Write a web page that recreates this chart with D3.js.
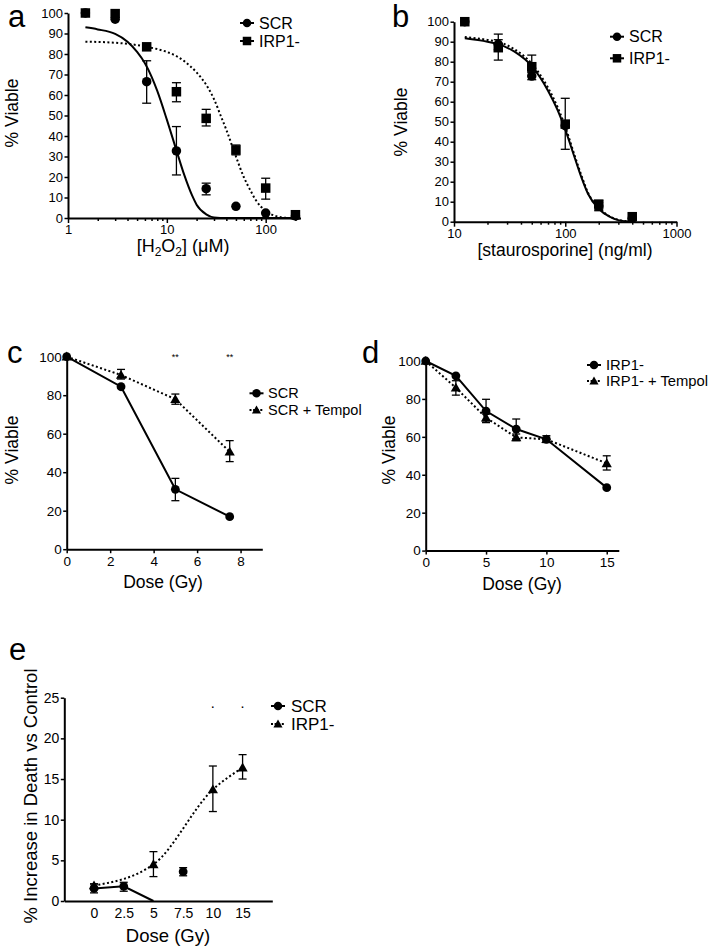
<!DOCTYPE html>
<html><head><meta charset="utf-8">
<script src="https://cdnjs.cloudflare.com/ajax/libs/d3/7.8.5/d3.min.js"></script>
<style>body{margin:0;background:#fff}svg{display:block}text{font-family:"Liberation Sans",Arial,Helvetica,sans-serif;fill:#000}</style>
</head><body>
<script>
// ---------- DATA ----------
// Panel a: H2O2 dose response
const dosesA = [1.5, 3, 6.25, 12.5, 25, 50, 100, 200];
const scrA = [100, 97, 66.5, 32.7, 14.3, 5.7, 2.4, 1.0];
const scrAErr = [null, null, [56, 76.7], [21, 44.6], [11.3, 17], null, null, null];
const irpA = [100, 99.7, 83.5, 61.6, 48.6, 33.2, 14.6, 1.6];
const irpAErr = [null, null, null, [56.7, 66], [44.9, 53], [30.8, 35.6], [9.2, 19.4], null];
const fitA_SCR_x = [1.5, 2, 3, 4, 5, 6, 7, 8, 10, 12.5, 15, 18, 20, 25, 30, 40, 200];
const fitA_SCR_y = [93, 92, 89.8, 86, 81, 75.5, 69, 62, 48, 33, 21, 11, 6.5, 1.8, 0.3, 0, 0];
const fitA_IRP_x = [1.5, 3, 6.25, 10, 12.5, 15, 20, 25, 30, 35, 40, 50, 60, 70, 80, 100, 130, 160, 200];
const fitA_IRP_y = [86, 85.5, 83.5, 81, 79, 76.5, 71, 65, 58, 50, 43, 30, 20, 13.5, 8.5, 3.5, 0.8, 0.1, 0];
const yTicksA = [0, 10, 20, 30, 40, 50, 60, 70, 80, 90, 100];
const xTicksA = [1, 2, 3, 4, 5, 6, 7, 8, 9, 10, 20, 30, 40, 50, 60, 70, 80, 90, 100, 200];
const xLabelsA = [1, 10, 100];

// Panel b: staurosporine dose response
const dosesB = [12.5, 25, 50, 100, 200, 400];
const scrB = [100, 88.7, 72.8, 48, 7.8, 1.7];
const scrBErr = [null, [86, 91], [71, 74.5], null, [6, 9.5], null];
const irpB = [100, 87, 77.5, 48.8, 8.8, 2.5];
const irpBErr = [null, [80.8, 93.8], [75, 83.3], [36.2, 61.7], [5.5, 10.5], null];
const fitB_SCR_x = [12.5, 20, 25, 35, 50, 70, 85, 100, 120, 140, 160, 200, 250, 300, 400];
const fitB_SCR_y = [91.7, 90, 88.8, 85, 77.8, 65.5, 56, 46, 33, 22, 14, 6.5, 2.5, 0.8, 0];
const fitB_IRP_y = [92.4, 90.9, 89.9, 86.2, 79, 67, 57.5, 47.5, 34, 23, 14.5, 7, 2.7, 0.9, 0];
const yTicksB = [0, 10, 20, 30, 40, 50, 60, 70, 80, 90, 100];
const xTicksB = [10, 20, 30, 40, 50, 60, 70, 80, 90, 100, 200, 300, 400, 500, 600, 700, 800, 900, 1000];
const xLabelsB = [10, 100, 1000];

// Panel c: SCR +/- Tempol, radiation
const dosesC = [0, 2.5, 5, 7.5];
const scrC = [100, 84.4, 31.1, 16.9];
const scrCErr = [null, null, [25.2, 36.8], null];
const scrTempolC = [100, 90.5, 77.9, 50.6];
const scrTempolCErr = [null, [88.4, 93.4], [75.3, 80.6], [45.5, 56.4]];
const sigC = [5, 7.5];
const xTicksC = [0, 2, 4, 6, 8];
const yTicksC = [0, 20, 40, 60, 80, 100];

// Panel d: IRP1- +/- Tempol, radiation
const dosesD = [0, 2.5, 5, 7.5, 10, 15];
const irpD = [100, 92.2, 73.6, 64.1, 58.7, 33.2];
const irpDErr = [null, null, [67.5, 79.8], [59, 69.4], [57, 60.6], null];
const irpTempolD = [100, 85.9, 70.1, 59.7, 58.7, 46];
const irpTempolDErr = [null, [82, 89.6], [67.8, 72], [58, 61.5], null, [42.5, 50]];
const xTicksD = [0, 5, 10, 15];
const yTicksD = [0, 20, 40, 60, 80, 100];

// Panel e: % increase in death vs control
const catsE = ["0", "2.5", "5", "7.5", "10", "15"];
const scrE = [1.55, 1.8, 0, 3.6, null, null];
const scrEErr = [[1.0, 2.1], [1.2, 2.3], null, [3.1, 4.1], null, null];
const scrELineCount = 3;
const irpE = [1.9, null, 4.5, null, 13.7, 16.4];
const irpEErr = [[1.6, 2.1], null, [3.0, 6.07], null, [11.0, 16.6], [15.0, 18.0]];
const sigE = ["10", "15"];
const yTicksE = [0, 5, 10, 15, 20, 25];

// ---------- DRAW ----------
const W = 719, H = 951;
const svg = d3.select("body").append("svg").attr("width", W).attr("height", H);
svg.append("rect").attr("width", W).attr("height", H).attr("fill", "#fff");
const DOT = "2,2.4";

function styleAxis(g, fs) {
  g.select(".domain").attr("stroke", "#000").attr("stroke-width", 2);
  g.selectAll(".tick line").attr("stroke", "#000").attr("stroke-width", 1.5);
  g.selectAll(".tick text").attr("font-size", fs).attr("fill", "#000")
    .style("font-family", '"Liberation Sans",Arial,sans-serif');
}
function yAxis(x0, y, ticks, fs) {
  const g = svg.append("g").attr("transform", `translate(${x0},0)`)
    .call(d3.axisLeft(y).tickValues(ticks).tickSize(3.5).tickPadding(1.5).tickSizeOuter(0).tickFormat(d3.format("d")));
  styleAxis(g, fs);
  return g;
}
function xAxis(y0, x, ticks, fs, labels, fmt) {
  const ax = d3.axisBottom(x).tickValues(ticks).tickSize(4).tickPadding(3).tickSizeOuter(0)
    .tickFormat(d => labels ? (labels.includes(d) ? d : "") : (fmt ? fmt(d) : d));
  const g = svg.append("g").attr("transform", `translate(0,${y0})`).call(ax);
  styleAxis(g, fs);
  if (labels) g.selectAll(".tick line").attr("y2", d => labels.includes(d) ? 5 : 3);
  return g;
}
function marker(g, shape, cx, cy, s) {
  if (shape === "circle") g.append("circle").attr("cx", cx).attr("cy", cy).attr("r", s / 2).attr("fill", "#000");
  else if (shape === "square") g.append("rect").attr("x", cx - s / 2).attr("y", cy - s / 2).attr("width", s).attr("height", s).attr("fill", "#000");
  else g.append("path").attr("d", d3.symbol(d3.symbolTriangle, s * s * 0.5)()).attr("transform", `translate(${cx},${cy + 0.8})`).attr("fill", "#000");
}
function errBars(g, xs, errs, x, y, cap) {
  errs.forEach((e, i) => {
    if (!e) return;
    const cx = x(xs[i]);
    g.append("line").attr("x1", cx).attr("x2", cx).attr("y1", y(e[0])).attr("y2", y(e[1])).attr("stroke", "#000").attr("stroke-width", 1.3);
    [e[0], e[1]].forEach(v => g.append("line").attr("x1", cx - cap / 2).attr("x2", cx + cap / 2).attr("y1", y(v)).attr("y2", y(v)).attr("stroke", "#000").attr("stroke-width", 1.3));
  });
}
function points(g, xs, ys, x, y, shape, s) {
  ys.forEach((v, i) => { if (v != null && v > 0) marker(g, shape, x(xs[i]), y(v), s); });
}
function path(g, xs, ys, x, y, dashed, curve) {
  const pts = xs.map((d, i) => [x(d), y(ys[i])]).filter((p, i) => ys[i] != null);
  g.append("path").attr("d", d3.line().curve(curve || d3.curveLinear)(pts)).attr("fill", "none")
    .attr("stroke", "#000").attr("stroke-width", 2).attr("stroke-dasharray", dashed ? DOT : null);
}
function legend(x0, rows, fs, textX) {
  rows.forEach(r => {
    const g = svg.append("g");
    g.append("line").attr("x1", x0).attr("x2", x0 + 14).attr("y1", r.y).attr("y2", r.y).attr("stroke", "#000")
      .attr("stroke-width", 2).attr("stroke-dasharray", r.dashed ? "2,1.6" : null);
    marker(g, r.shape, x0 + 7, r.y, 8.5);
    g.append("text").attr("x", textX).attr("y", r.y).attr("dy", "0.35em").attr("font-size", fs).text(r.label);
  });
}
function letter(x, y, t) { svg.append("text").attr("x", x).attr("y", y).attr("font-size", 31).text(t); }
function yTitle(x, y, t, fs) {
  svg.append("text").attr("transform", `translate(${x},${y}) rotate(-90)`).attr("text-anchor", "middle").attr("font-size", fs).text(t);
}
function xTitle(x, y, t, fs) {
  return svg.append("text").attr("x", x).attr("y", y).attr("text-anchor", "middle").attr("font-size", fs).text(t);
}

// ----- Panel a -----
{
  const x = d3.scaleLog().domain([1, 225]).range([68, 300.5]);
  const y = d3.scaleLinear().domain([0, 100]).range([218, 13]);
  const g = svg.append("g");
  path(g, fitA_SCR_x, fitA_SCR_y, x, y, false, d3.curveMonotoneX);
  path(g, fitA_IRP_x, fitA_IRP_y, x, y, true, d3.curveMonotoneX);
  xAxis(218, x, xTicksA, 13, xLabelsA);
  yAxis(68, y, yTicksA, 13);
  errBars(g, dosesA, scrAErr, x, y, 9);
  errBars(g, dosesA, irpAErr, x, y, 9);
  points(g, dosesA, scrA, x, y, "circle", 9.5);
  points(g, dosesA, irpA, x, y, "square", 9.5);
  legend(240, [{ y: 23, shape: "circle", label: "SCR" }, { y: 41, shape: "square", label: "IRP1-" }], 16, 259);
  letter(8, 27, "a");
  yTitle(18, 113, "% Viable", 17.5);
  const t = xTitle(183, 252, "", 18);
  t.append("tspan").text("[H");
  t.append("tspan").attr("font-size", 12).attr("dy", 4).text("2");
  t.append("tspan").attr("dy", -4).text("O");
  t.append("tspan").attr("font-size", 12).attr("dy", 4).text("2");
  t.append("tspan").attr("dy", -4).text("] (\u03BCM)");
}

// ----- Panel b -----
{
  const x = d3.scaleLog().domain([10, 1000]).range([454, 676.5]);
  const y = d3.scaleLinear().domain([0, 100]).range([221.7, 21.7]);
  const g = svg.append("g");
  path(g, fitB_SCR_x, fitB_SCR_y, x, y, false, d3.curveMonotoneX);
  path(g, fitB_SCR_x, fitB_IRP_y, x, y, true, d3.curveMonotoneX);
  xAxis(221.7, x, xTicksB, 13, xLabelsB);
  yAxis(454, y, yTicksB, 13);
  errBars(g, dosesB, scrBErr, x, y, 9);
  errBars(g, dosesB, irpBErr, x, y, 9);
  points(g, dosesB, scrB, x, y, "circle", 9.5);
  points(g, dosesB, irpB, x, y, "square", 9.5);
  legend(610, [{ y: 36.7, shape: "circle", label: "SCR" }, { y: 58.3, shape: "square", label: "IRP1-" }], 16, 629);
  letter(392, 27, "b");
  yTitle(407, 122, "% Viable", 17.5);
  xTitle(565, 256, "[staurosporine] (ng/ml)", 17.5);
}

// ----- Panel c -----
{
  const x = d3.scaleLinear().domain([0, 9]).range([66.7, 262.3]);
  const y = d3.scaleLinear().domain([0, 100]).range([549.2, 356.7]);
  const g = svg.append("g");
  path(g, dosesC, scrC, x, y, false);
  path(g, dosesC, scrTempolC, x, y, true);
  xAxis(549.2, x, xTicksC, 13.5);
  yAxis(66.7, y, yTicksC, 13.5);
  errBars(g, dosesC, scrCErr, x, y, 8);
  errBars(g, dosesC, scrTempolCErr, x, y, 8);
  points(g, dosesC, scrC, x, y, "circle", 8.8);
  points(g, dosesC, scrTempolC, x, y, "triangle", 9.5);
  sigC.forEach(d => svg.append("text").attr("x", x(d)).attr("y", 360).attr("text-anchor", "middle").attr("font-size", 9).text("**"));
  legend(249.5, [{ y: 393.3, shape: "circle", label: "SCR" }, { y: 410, shape: "triangle", dashed: true, label: "SCR + Tempol" }], 14.5, 268);
  letter(7, 363, "c");
  yTitle(18, 450, "% Viable", 17.5);
  xTitle(163, 588, "Dose (Gy)", 17.5);
}

// ----- Panel d -----
{
  const x = d3.scaleLinear().domain([0, 16]).range([425.7, 618.8]);
  const y = d3.scaleLinear().domain([0, 100]).range([550.6, 361]);
  const g = svg.append("g");
  path(g, dosesD, irpD, x, y, false);
  path(g, dosesD, irpTempolD, x, y, true);
  xAxis(550.6, x, xTicksD, 13.5);
  yAxis(425.7, y, yTicksD, 13.5);
  errBars(g, dosesD, irpDErr, x, y, 8);
  errBars(g, dosesD, irpTempolDErr, x, y, 8);
  points(g, dosesD, irpTempolD, x, y, "triangle", 9.5);
  points(g, dosesD, irpD, x, y, "circle", 8.8);
  legend(587, [{ y: 365, shape: "circle", label: "IRP1-" }, { y: 381, shape: "triangle", dashed: true, label: "IRP1- + Tempol" }], 14.8, 606);
  letter(362, 363, "d");
  yTitle(395, 450, "% Viable", 17.5);
  xTitle(522, 590, "Dose (Gy)", 17.5);
}

// ----- Panel e -----
{
  const x = d3.scalePoint().domain(catsE).range([64.3, 272.3]).padding(1);
  const y = d3.scaleLinear().domain([0, 25]).range([901, 697.7]);
  const g = svg.append("g");
  path(g, catsE.slice(0, scrELineCount), scrE.slice(0, scrELineCount), x, y, false);
  path(g, catsE, irpE, x, y, true, d3.curveMonotoneX);
  const ga = xAxis(901, x, catsE, 14);
  ga.selectAll(".tick line").attr("y2", 0);
  yAxis(64.3, y, yTicksE, 14);
  errBars(g, catsE, scrEErr, x, y, 8);
  errBars(g, catsE, irpEErr, x, y, 8);
  points(g, catsE, irpE, x, y, "triangle", 9.5);
  points(g, catsE, scrE, x, y, "circle", 8.8);
  sigE.forEach(d => svg.append("text").attr("x", x(d)).attr("y", 711).attr("text-anchor", "middle").attr("font-size", 15).text("\u00B7"));
  legend(271, [{ y: 706, shape: "circle", label: "SCR" }, { y: 724, shape: "triangle", dashed: true, label: "IRP1-" }], 17, 291);
  letter(9, 660, "e");
  yTitle(37, 796, "% Increase in Death vs Control", 18.5);
  xTitle(168, 942, "Dose (Gy)", 18.5);
}
</script>
</body></html>
